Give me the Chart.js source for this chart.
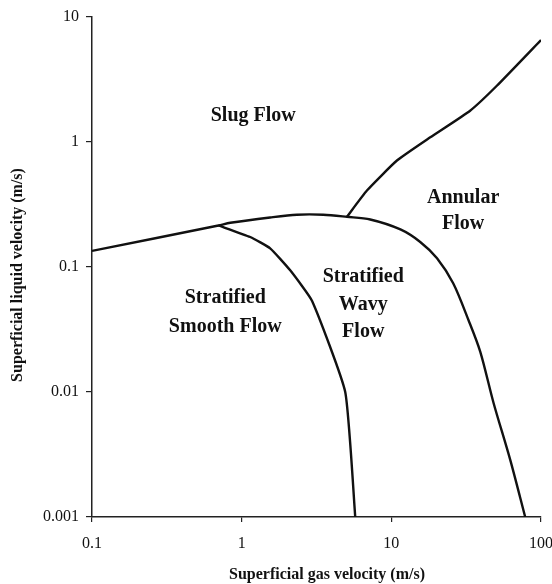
<!DOCTYPE html>
<html><head><meta charset="utf-8">
<script src="https://cdn.jsdelivr.net/npm/chart.js@4/dist/chart.umd.min.js"></script>
<style>html,body{margin:0;padding:0;background:#fff}</style>
</head><body>
<canvas id="c" width="552" height="584"></canvas>
<script>
const xTickValues = [0.1, 1, 10, 100];
const xTickLabels = ['0.1', '1', '10', '100'];
const yTickValues = [0.001, 0.01, 0.1, 1, 10];
const yTickLabels = ['0.001', '0.01', '0.1', '1', '10'];

// stratified / intermittent-annular boundary
const boundaryX = [0.1, 0.70, 0.84, 1.55, 2.34, 3.51, 5.05, 7.23, 11.5, 15.6, 20.2, 25.9, 32.8, 39.3, 48.2, 62.3, 78.4];
const boundaryY = [0.134, 0.214, 0.225, 0.248, 0.261, 0.261, 0.251, 0.239, 0.199, 0.158, 0.117, 0.0738, 0.0374, 0.0209, 0.00816, 0.00286, 0.001];
// smooth / wavy boundary
const smoothX = [0.70, 1.14, 1.55, 2.11, 2.96, 4.92, 5.74];
const smoothY = [0.214, 0.173, 0.1405, 0.0937, 0.0531, 0.00998, 0.001];
// slug / annular boundary
const annularX = [5.05, 6.87, 10.9, 18.2, 33.6, 50.7, 100];
const annularY = [0.251, 0.407, 0.707, 1.084, 1.77, 2.80, 6.5];

// region names, anchored in data units
const regionText = ['Slug Flow', 'Annular', 'Flow', 'Stratified', 'Wavy', 'Flow', 'Stratified', 'Smooth Flow'];
const regionX = [1.195, 30.2, 30.2, 6.49, 6.49, 6.49, 0.777, 0.777];
const regionY = [1.61, 0.358, 0.222, 0.0825, 0.0493, 0.0301, 0.0561, 0.0329];

const xTitle = 'Superficial gas velocity (m/s)';
const yTitle = 'Superficial liquid velocity (m/s)';

const toPts = (xs, ys) => xs.map((x, i) => ({x: x, y: ys[i]}));
const SERIF = '"Liberation Serif", "Times New Roman", serif';

const lineStyle = {showLine: true, borderColor: '#111', borderWidth: 2.4, pointRadius: 0, fill: false, tension: 0};

const labelPlugin = {
  id: 'labels',
  afterDatasetsDraw(chart) {
    const ctx = chart.ctx, xs = chart.scales.x, ys = chart.scales.y;
    ctx.save();
    ctx.fillStyle = '#111';
    ctx.textAlign = 'center';
    ctx.textBaseline = 'middle';
    ctx.font = 'bold 20px ' + SERIF;
    regionText.forEach((t, i) => {
      ctx.fillText(t, xs.getPixelForValue(regionX[i]), ys.getPixelForValue(regionY[i]));
    });
    ctx.font = 'bold 16px ' + SERIF;
    ctx.fillText(xTitle, 327, 575);
    ctx.translate(18, 275);
    ctx.rotate(-Math.PI / 2);
    ctx.fillText(yTitle, 0, 0);
    ctx.restore();
  }
};

new Chart(document.getElementById('c'), {
  type: 'scatter',
  data: {
    datasets: [
      Object.assign({}, lineStyle, {data: toPts(boundaryX, boundaryY), tension: 0.3}),
      Object.assign({}, lineStyle, {data: toPts(smoothX, smoothY), tension: 0.15}),
      Object.assign({}, lineStyle, {data: toPts(annularX, annularY), tension: 0.15})
    ]
  },
  options: {
    responsive: false,
    animation: false,
    devicePixelRatio: 1,
    layout: {padding: {top: 16, right: 0, left: 0, bottom: 0}},
    plugins: {legend: {display: false}, tooltip: {enabled: false}},
    scales: {
      x: {
        type: 'logarithmic', min: 0.1, max: 100,
        afterBuildTicks: s => { s.ticks = xTickValues.map(v => ({value: v})); },
        afterFit: s => { s.height = 67; s.paddingRight = 11; s.paddingLeft = 0; },
        grid: {drawOnChartArea: false, drawTicks: true, tickLength: 5, color: '#222', lineWidth: 1.2},
        border: {display: true, color: '#222', width: 1.5},
        ticks: {
          autoSkip: false, maxRotation: 0, padding: 12, color: '#111',
          font: {family: SERIF, size: 16},
          callback: v => { const i = xTickValues.indexOf(v); return i >= 0 ? xTickLabels[i] : ''; }
        }
      },
      y: {
        type: 'logarithmic', min: 0.001, max: 10,
        afterBuildTicks: s => { s.ticks = yTickValues.map(v => ({value: v})); },
        afterFit: s => { s.width = 92; },
        grid: {drawOnChartArea: false, drawTicks: true, tickLength: 6, color: '#222', lineWidth: 1.2},
        border: {display: true, color: '#222', width: 1.5},
        ticks: {
          autoSkip: false, padding: 7, color: '#111',
          font: {family: SERIF, size: 16},
          callback: v => { const i = yTickValues.indexOf(v); return i >= 0 ? yTickLabels[i] : ''; }
        }
      }
    }
  },
  plugins: [labelPlugin]
});
</script>
</body></html>
